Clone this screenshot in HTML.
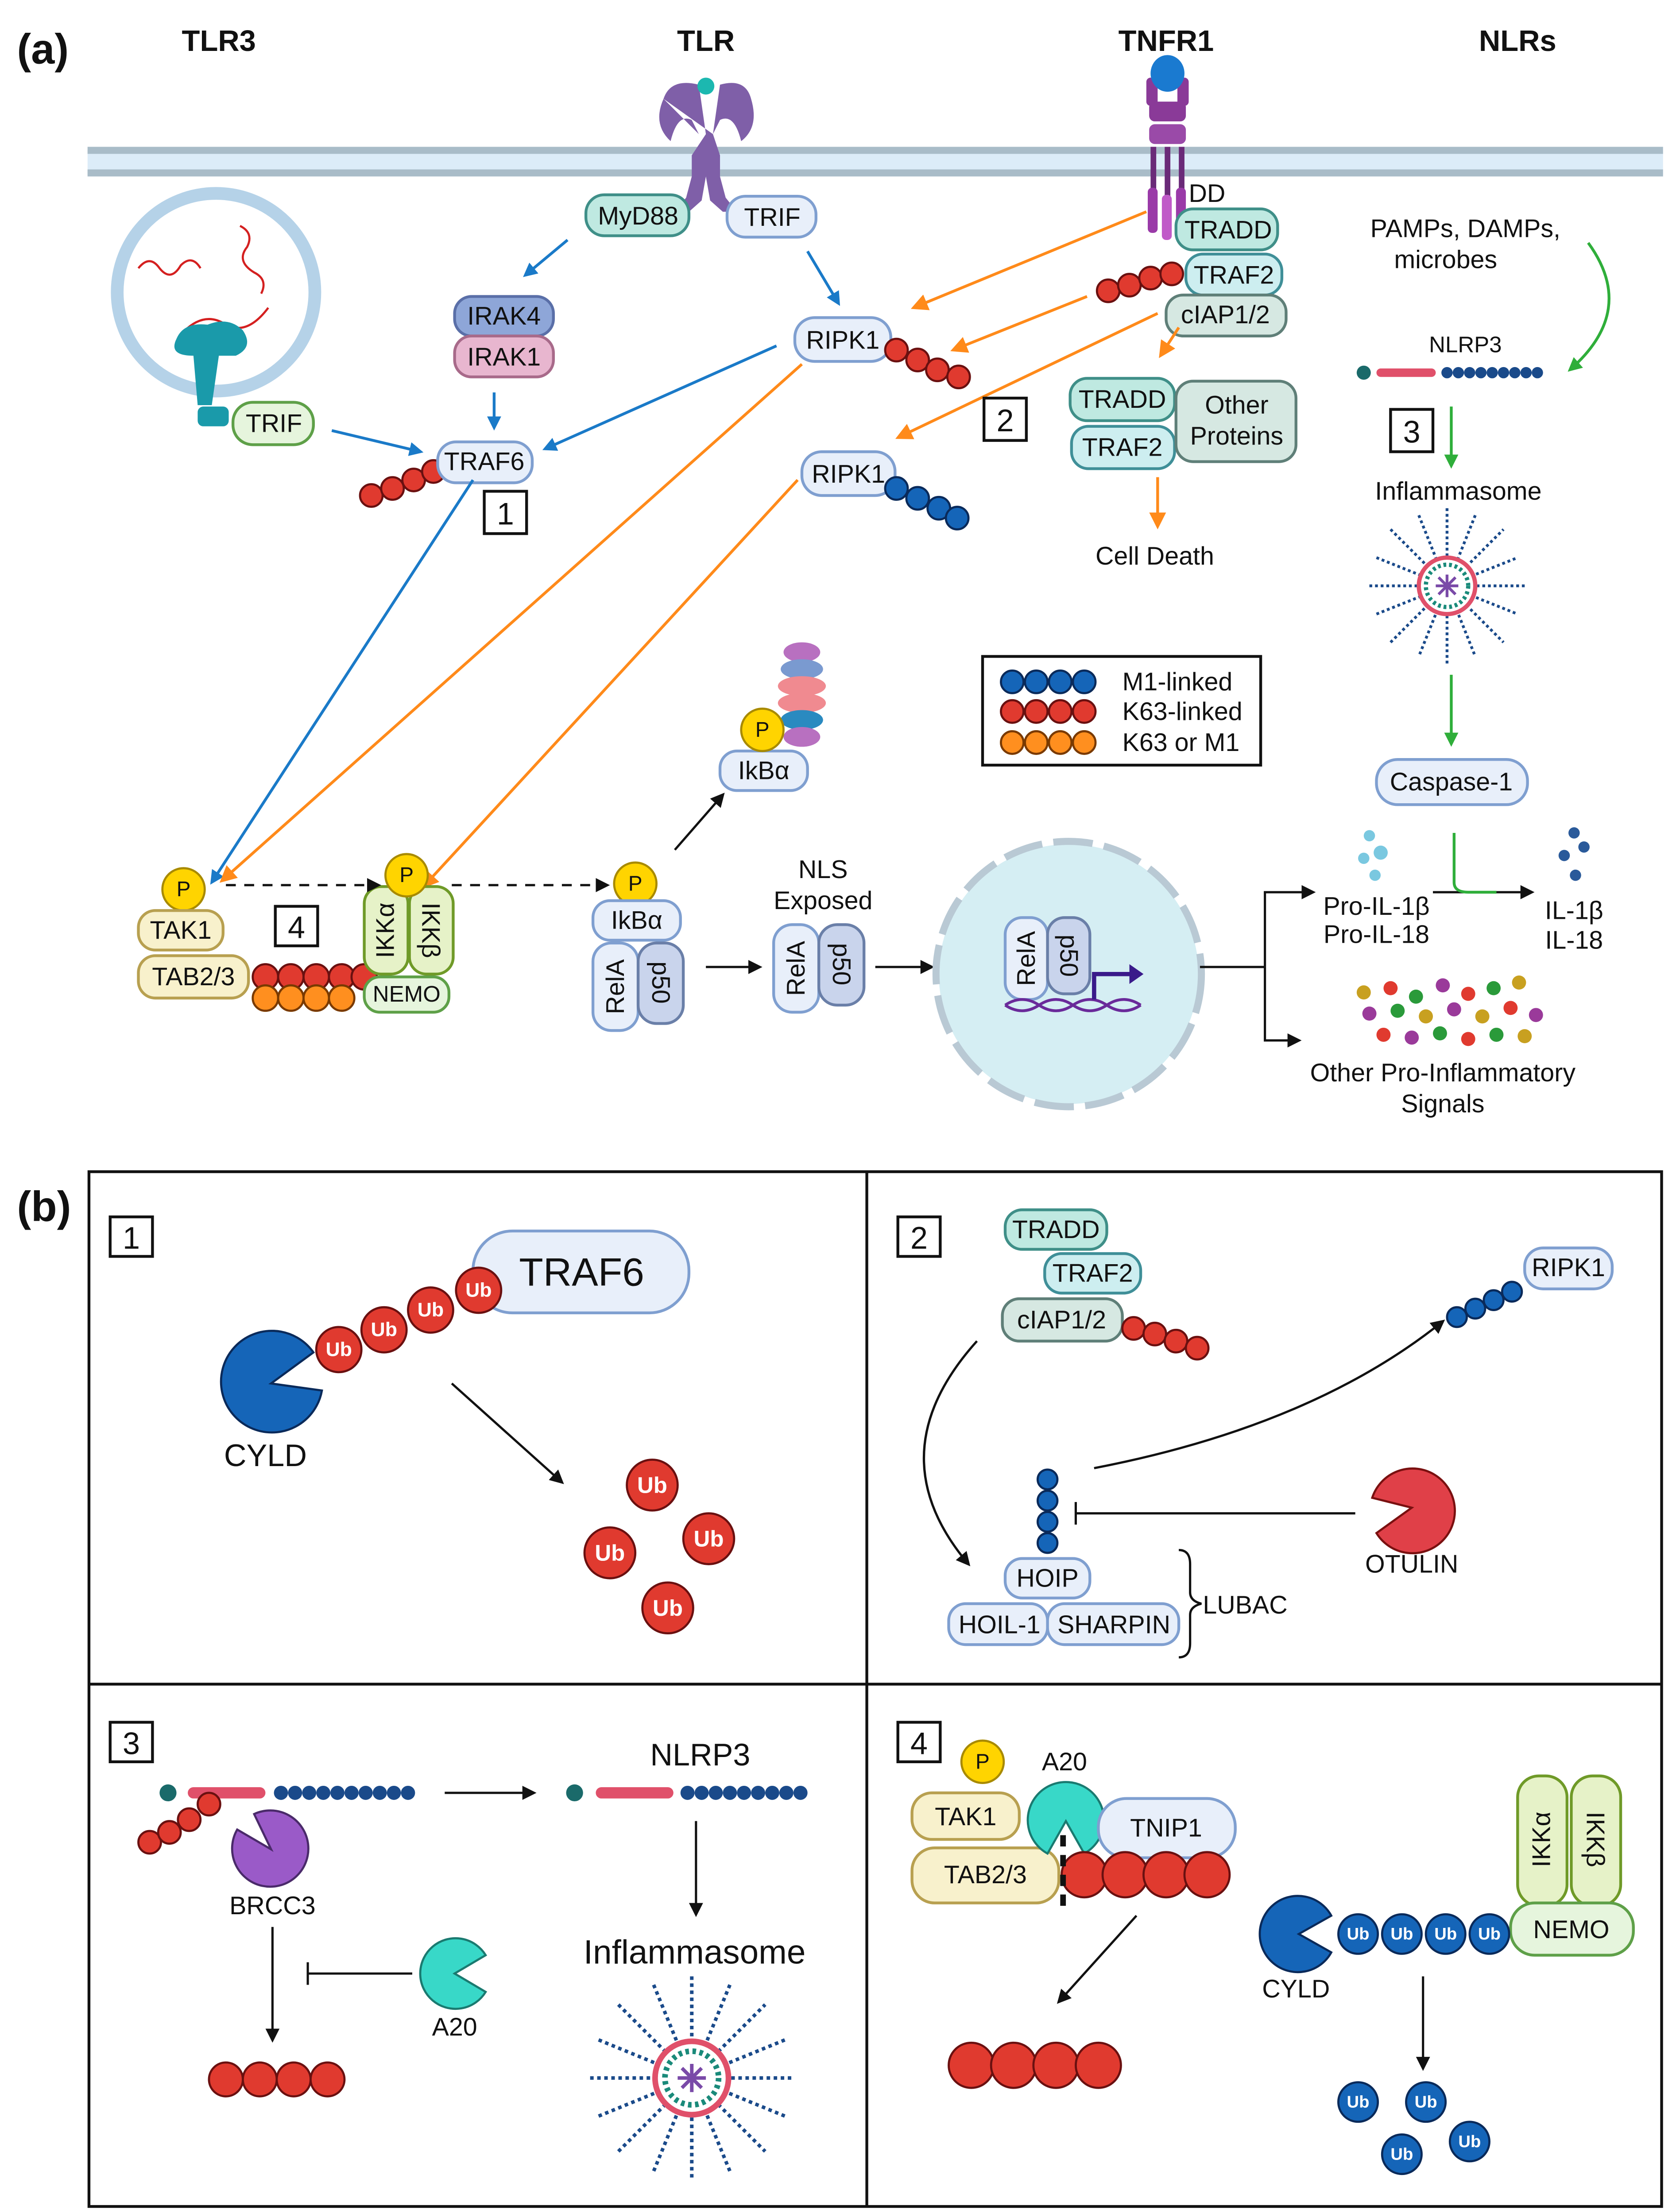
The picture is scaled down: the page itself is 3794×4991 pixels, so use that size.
<!DOCTYPE html>
<html><head><meta charset="utf-8"><style>
html,body{margin:0;padding:0;background:#fff;}
svg{display:block;}
text{font-family:"Liberation Sans",sans-serif;fill:#111;}
.t{font-size:18px;text-anchor:middle;dominant-baseline:central;}
.h{font-size:21px;font-weight:bold;text-anchor:middle;}
.pb{fill:#e8effa;stroke:#7f9fd0;stroke-width:2;}
.pt{fill:#bfe9e1;stroke:#3f8f88;stroke-width:2;}
.pg{fill:#e6f5dd;stroke:#5ea048;stroke-width:2;}
.pc{fill:#d6e8e2;stroke:#5f7f78;stroke-width:2;}
.py{fill:#f8f1cc;stroke:#b8a050;stroke-width:2;}
.pk{fill:#e6f2c8;stroke:#6f9a28;stroke-width:2;}
.r{fill:#e03a2f;stroke:#6a1010;stroke-width:1.5;}
.b{fill:#1565b8;stroke:#0a2a5a;stroke-width:1.5;}
.o{fill:#ff8f1f;stroke:#7a3a00;stroke-width:1.5;}
.bx{fill:#fff;stroke:#111;stroke-width:2;}
.ab{stroke:#1a7ac8;stroke-width:2;fill:none;}
.ao{stroke:#ff8a1a;stroke-width:2;fill:none;}
.ag{stroke:#2fae3a;stroke-width:2;fill:none;}
.ak{stroke:#111;stroke-width:1.6;fill:none;}
.ub{font-size:14px;font-weight:bold;fill:#fff;text-anchor:middle;dominant-baseline:central;}
</style></head><body>
<svg width="3794" height="4991" viewBox="0 0 1190 1565.5" xmlns="http://www.w3.org/2000/svg">
<defs>
<marker id="mb" markerWidth="10" markerHeight="10" refX="8" refY="5" orient="auto" markerUnits="userSpaceOnUse"><path d="M0,0 L10,5 L0,10 Z" fill="#1a7ac8"/></marker>
<marker id="mo" markerWidth="12" markerHeight="12" refX="10" refY="6" orient="auto" markerUnits="userSpaceOnUse"><path d="M0,0 L12,6 L0,12 Z" fill="#ff8a1a"/></marker>
<marker id="mg" markerWidth="10" markerHeight="10" refX="8" refY="5" orient="auto" markerUnits="userSpaceOnUse"><path d="M0,0 L10,5 L0,10 Z" fill="#2fae3a"/></marker>
<marker id="mk" markerWidth="10" markerHeight="10" refX="8" refY="5" orient="auto" markerUnits="userSpaceOnUse"><path d="M0,0 L10,5 L0,10 Z" fill="#111"/></marker>
</defs>

<text x="12" y="45" style="font-size:30px;font-weight:bold">(a)</text>
<text x="12" y="865" style="font-size:30px;font-weight:bold">(b)</text>
<text class="h" x="155" y="36">TLR3</text>
<text class="h" x="500" y="36">TLR</text>
<text class="h" x="826" y="36">TNFR1</text>
<text class="h" x="1075" y="36">NLRs</text>

<rect x="62" y="106" width="1116" height="18" fill="#dcecf8"/>
<rect x="62" y="104" width="1116" height="5" fill="#a9bcc8"/>
<rect x="62" y="120" width="1116" height="5" fill="#a9bcc8"/>

<g fill="#7f5fa8">
<path d="M470,70 Q475,55 495,60 L500,95 L490,110 L490,125 L486,140 L478,150 L488,150 L497,142 L500,125 L503,142 L512,150 L522,150 L514,140 L510,125 L510,110 L505,95 L510,60 Q528,55 532,70 Q538,90 525,100 Q520,80 510,85 L505,95 Z"/>
<path d="M470,70 Q462,88 475,100 Q480,80 490,85 L495,95 Z"/>
</g>
<circle cx="500" cy="61" r="6" fill="#1cb8b0"/>
<g>
<rect x="812" y="55" width="8" height="20" rx="3" fill="#8a3a98"/>
<rect x="834" y="55" width="8" height="20" rx="3" fill="#8a3a98"/>
<ellipse cx="827" cy="52" rx="12" ry="13" fill="#1a7ad0"/>
<rect x="814" y="72" width="26" height="14" rx="4" fill="#8a3a98"/>
<rect x="814" y="88" width="26" height="14" rx="4" fill="#9a4aa8"/>
<rect x="815" y="104" width="4" height="55" fill="#6a2a78"/>
<rect x="825" y="104" width="4" height="55" fill="#6a2a78"/>
<rect x="835" y="104" width="4" height="55" fill="#6a2a78"/>
<rect x="813" y="133" width="7" height="32" rx="3" fill="#9a3aa8"/>
<rect x="823" y="138" width="7" height="32" rx="3" fill="#c05ac8"/>
<rect x="833" y="133" width="7" height="32" rx="3" fill="#9a3aa8"/>
</g>
<text x="842" y="137" style="font-size:18px;dominant-baseline:central">DD</text>

<circle cx="153" cy="207" r="70" fill="#fff" stroke="#b5d2e8" stroke-width="9"/>
<path d="M98,190 q8,-10 15,0 q8,10 15,-2 q8,-8 14,2" stroke="#d42020" stroke-width="1.5" fill="none"/>
<path d="M170,160 q10,5 5,15 q-8,10 5,18 q10,5 5,15" stroke="#d42020" stroke-width="1.5" fill="none"/>
<path d="M130,235 q15,-15 30,-5 q15,8 30,-12" stroke="#d42020" stroke-width="1.5" fill="none"/>
<g fill="#1a9aaa"><path d="M125,240 q5,-12 22,-10 q15,-6 25,4 q8,12 -5,18 l-12,0 l-5,35 l-10,0 l-3,-35 q-18,0 -12,-12 Z"/><rect x="140" y="288" width="22" height="14" rx="4"/></g>
<rect x="165" y="285" width="57" height="30" rx="14" class="pg"/><text class="t" x="194" y="300">TRIF</text>
<line x1="235" y1="305" x2="298" y2="320" class="ab" marker-end="url(#mb)"/>

<circle class="r" cx="263" cy="351" r="8"/><circle class="r" cx="278" cy="346" r="8"/><circle class="r" cx="293" cy="340" r="8"/><circle class="r" cx="307" cy="334" r="8"/>
<rect x="310" y="313" width="67" height="29" rx="13" class="pb"/><text class="t" x="343" y="327">TRAF6</text>
<rect class="bx" x="343" y="348" width="30" height="30"/><text class="t" x="358" y="364" style="font-size:22px">1</text>

<rect x="415" y="138" width="73" height="29" rx="13" class="pt"/><text class="t" x="452" y="153">MyD88</text>
<rect x="515" y="139" width="63" height="29" rx="13" class="pb"/><text class="t" x="547" y="154">TRIF</text>
<rect x="322" y="210" width="70" height="28" rx="12" fill="#8ea6d8" stroke="#5a6fa8" stroke-width="2"/><text class="t" x="357" y="224">IRAK4</text>
<rect x="322" y="238" width="70" height="29" rx="12" fill="#e8b6cf" stroke="#a86a8a" stroke-width="2"/><text class="t" x="357" y="253">IRAK1</text>
<line x1="402" y1="170" x2="372" y2="195" class="ab" marker-end="url(#mb)"/>
<line x1="350" y1="278" x2="350" y2="303" class="ab" marker-end="url(#mb)"/>
<line x1="572" y1="178" x2="594" y2="215" class="ab" marker-end="url(#mb)"/>
<line x1="550" y1="245" x2="386" y2="318" class="ab" marker-end="url(#mb)"/>
<line x1="335" y1="340" x2="150" y2="625" class="ab" marker-end="url(#mb)"/>

<rect x="563" y="225" width="68" height="31" rx="14" class="pb"/><text class="t" x="597" y="241">RIPK1</text>
<circle class="r" cx="635" cy="248" r="8"/><circle class="r" cx="650" cy="255" r="8"/><circle class="r" cx="664" cy="262" r="8"/><circle class="r" cx="679" cy="267" r="8"/>
<rect x="568" y="320" width="66" height="31" rx="14" class="pb"/><text class="t" x="601" y="336">RIPK1</text>
<circle class="b" cx="635" cy="346" r="8"/><circle class="b" cx="650" cy="353" r="8"/><circle class="b" cx="665" cy="360" r="8"/><circle class="b" cx="678" cy="367" r="8"/>

<rect x="833" y="148" width="72" height="29" rx="12" class="pt"/><text class="t" x="870" y="163">TRADD</text>
<rect x="840" y="180" width="68" height="29" rx="12" fill="#cdeef0" stroke="#3f8f98" stroke-width="2"/><text class="t" x="874" y="195">TRAF2</text>
<rect x="826" y="209" width="85" height="29" rx="12" class="pc"/><text class="t" x="868" y="223">cIAP1/2</text>
<circle class="r" cx="785" cy="206" r="8"/><circle class="r" cx="800" cy="202" r="8"/><circle class="r" cx="815" cy="197" r="8"/><circle class="r" cx="830" cy="194" r="8"/>
<line x1="812" y1="150" x2="647" y2="218" class="ao" marker-end="url(#mo)"/>
<line x1="770" y1="210" x2="675" y2="248" class="ao" marker-end="url(#mo)"/>
<line x1="820" y1="222" x2="636" y2="310" class="ao" marker-end="url(#mo)"/>
<line x1="835" y1="232" x2="822" y2="252" class="ao" marker-end="url(#mo)"/>
<line x1="568" y1="258" x2="157" y2="624" class="ao" marker-end="url(#mo)"/>
<line x1="565" y1="340" x2="300" y2="628" class="ao" marker-end="url(#mo)"/>
<rect class="bx" x="697" y="282" width="30" height="30"/><text class="t" x="712" y="298" style="font-size:22px">2</text>
<rect x="758" y="268" width="74" height="30" rx="12" class="pt"/><text class="t" x="795" y="283">TRADD</text>
<rect x="759" y="302" width="73" height="30" rx="12" fill="#cdeef0" stroke="#3f8f98" stroke-width="2"/><text class="t" x="795" y="317">TRAF2</text>
<rect x="833" y="270" width="85" height="57" rx="12" class="pc"/><text class="t" x="876" y="287">Other</text><text class="t" x="876" y="309">Proteins</text>
<line x1="820" y1="338" x2="820" y2="373" class="ao" marker-end="url(#mo)"/>
<text class="t" x="818" y="394">Cell Death</text>

<text class="t" x="1038" y="162">PAMPs, DAMPs,</text>
<text class="t" x="1024" y="184">microbes</text>
<path d="M1125,172 Q1160,220 1112,262" class="ag" marker-end="url(#mg)"/>
<text class="t" x="1038" y="244" style="font-size:16px">NLRP3</text>
<circle cx="966" cy="264" r="5" fill="#1a6a6a"/>
<rect x="975" y="261" width="42" height="6" rx="3" fill="#e0506a"/>
<g fill="#1a4a8a"><circle cx="1025" cy="264" r="4"/><circle cx="1033" cy="264" r="4"/><circle cx="1041" cy="264" r="4"/><circle cx="1049" cy="264" r="4"/><circle cx="1057" cy="264" r="4"/><circle cx="1065" cy="264" r="4"/><circle cx="1073" cy="264" r="4"/><circle cx="1081" cy="264" r="4"/><circle cx="1089" cy="264" r="4"/></g>
<rect class="bx" x="985" y="290" width="30" height="30"/><text class="t" x="1000" y="306" style="font-size:22px">3</text>
<line x1="1028" y1="288" x2="1028" y2="330" class="ag" marker-end="url(#mg)"/>
<text class="t" x="1033" y="348">Inflammasome</text>
<g transform="translate(1025,415)">
<g stroke="#1a4a8a" stroke-width="2" stroke-dasharray="2 2">
<line x1="-55" y1="0" x2="55" y2="0"/><line x1="0" y1="-55" x2="0" y2="55"/><line x1="-40" y1="-40" x2="40" y2="40"/><line x1="-40" y1="40" x2="40" y2="-40"/>
<line x1="-50" y1="-20" x2="50" y2="20"/><line x1="-50" y1="20" x2="50" y2="-20"/><line x1="-20" y1="-50" x2="20" y2="50"/><line x1="20" y1="-50" x2="-20" y2="50"/>
</g>
<circle r="20" fill="#fff" stroke="#e0506a" stroke-width="3"/>
<circle r="15" fill="#fff" stroke="#1a8a7a" stroke-width="3" stroke-dasharray="2 2"/>
<g stroke="#7a4aa8" stroke-width="2"><line x1="-8" y1="0" x2="8" y2="0"/><line x1="0" y1="-8" x2="0" y2="8"/><line x1="-6" y1="-6" x2="6" y2="6"/><line x1="-6" y1="6" x2="6" y2="-6"/></g>
</g>
<line x1="1028" y1="478" x2="1028" y2="527" class="ag" marker-end="url(#mg)"/>
<rect x="975" y="538" width="107" height="32" rx="15" class="pb"/><text class="t" x="1028" y="554">Caspase-1</text>

<rect class="bx" x="696" y="465" width="197" height="77"/>
<g><circle class="b" cx="717" cy="483" r="8"/><circle class="b" cx="734" cy="483" r="8"/><circle class="b" cx="751" cy="483" r="8"/><circle class="b" cx="768" cy="483" r="8"/>
<circle class="r" cx="717" cy="504" r="8"/><circle class="r" cx="734" cy="504" r="8"/><circle class="r" cx="751" cy="504" r="8"/><circle class="r" cx="768" cy="504" r="8"/>
<circle class="o" cx="717" cy="526" r="8"/><circle class="o" cx="734" cy="526" r="8"/><circle class="o" cx="751" cy="526" r="8"/><circle class="o" cx="768" cy="526" r="8"/></g>
<text x="795" y="483" style="font-size:18px;dominant-baseline:central">M1-linked</text>
<text x="795" y="504" style="font-size:18px;dominant-baseline:central">K63-linked</text>
<text x="795" y="526" style="font-size:18px;dominant-baseline:central">K63 or M1</text>

<circle cx="130" cy="630" r="15" fill="#ffd400" stroke="#a88a00" stroke-width="1.5"/><text class="t" x="130" y="630" style="font-size:15px">P</text>
<rect x="98" y="645" width="60" height="28" rx="12" class="py"/><text class="t" x="128" y="659">TAK1</text>
<rect x="98" y="677" width="78" height="30" rx="12" class="py"/><text class="t" x="137" y="692">TAB2/3</text>
<rect class="bx" x="195" y="642" width="30" height="28"/><text class="t" x="210" y="657" style="font-size:22px">4</text>
<g><circle class="r" cx="188" cy="692" r="9"/><circle class="r" cx="206" cy="692" r="9"/><circle class="r" cx="224" cy="692" r="9"/><circle class="r" cx="242" cy="692" r="9"/><circle class="r" cx="258" cy="692" r="9"/>
<circle class="o" cx="188" cy="707" r="9"/><circle class="o" cx="206" cy="707" r="9"/><circle class="o" cx="224" cy="707" r="9"/><circle class="o" cx="242" cy="707" r="9"/></g>
<rect x="258" y="628" width="31" height="62" rx="12" class="pk"/><text class="t" x="273" y="659" transform="rotate(-90 273 659)">IKKα</text>
<rect x="290" y="628" width="31" height="62" rx="12" class="pk"/><text class="t" x="305" y="659" transform="rotate(90 305 659)">IKKβ</text>
<rect x="258" y="692" width="60" height="25" rx="11" class="pg"/><text class="t" x="288" y="704" style="font-size:16px">NEMO</text>
<circle cx="288" cy="620" r="15" fill="#ffd400" stroke="#a88a00" stroke-width="1.5"/><text class="t" x="288" y="620" style="font-size:15px">P</text>
<line x1="160" y1="627" x2="268" y2="627" class="ak" stroke-dasharray="7 6" marker-end="url(#mk)"/>
<line x1="320" y1="627" x2="430" y2="627" class="ak" stroke-dasharray="7 6" marker-end="url(#mk)"/>

<circle cx="450" cy="626" r="15" fill="#ffd400" stroke="#a88a00" stroke-width="1.5"/><text class="t" x="450" y="626" style="font-size:15px">P</text>
<rect x="420" y="638" width="62" height="28" rx="12" class="pb"/><text class="t" x="451" y="652">IkBα</text>
<rect x="420" y="668" width="32" height="62" rx="13" class="pb"/><text class="t" x="436" y="699" transform="rotate(-90 436 699)">RelA</text>
<rect x="452" y="668" width="32" height="57" rx="13" fill="#c9d4ec" stroke="#6a7fa8" stroke-width="2"/><text class="t" x="468" y="696" transform="rotate(90 468 696)">p50</text>
<line x1="478" y1="602" x2="512" y2="563" class="ak" marker-end="url(#mk)"/>
<g>
<ellipse cx="568" cy="462" rx="13" ry="7" fill="#b870c0"/><ellipse cx="568" cy="474" rx="15" ry="7" fill="#7a9ad0"/><ellipse cx="568" cy="486" rx="17" ry="7" fill="#f08a90"/><ellipse cx="568" cy="498" rx="17" ry="7" fill="#f08a90"/><ellipse cx="568" cy="510" rx="15" ry="7" fill="#2a8ac0"/><ellipse cx="568" cy="522" rx="13" ry="7" fill="#b870c0"/>
</g>
<rect x="510" y="532" width="62" height="28" rx="12" class="pb"/><text class="t" x="541" y="546">IkBα</text>
<circle cx="540" cy="517" r="15" fill="#ffd400" stroke="#a88a00" stroke-width="1.5"/><text class="t" x="540" y="517" style="font-size:15px">P</text>
<line x1="500" y1="685" x2="538" y2="685" class="ak" marker-end="url(#mk)"/>
<text class="t" x="583" y="616">NLS</text><text class="t" x="583" y="638">Exposed</text>
<rect x="548" y="655" width="32" height="62" rx="13" class="pb"/><text class="t" x="564" y="686" transform="rotate(-90 564 686)">RelA</text>
<rect x="580" y="655" width="32" height="57" rx="13" fill="#c9d4ec" stroke="#6a7fa8" stroke-width="2"/><text class="t" x="596" y="683" transform="rotate(90 596 683)">p50</text>
<line x1="620" y1="685" x2="660" y2="685" class="ak" marker-end="url(#mk)"/>

<circle cx="757" cy="690" r="92" fill="#d5eef3"/>
<circle cx="757" cy="690" r="94" fill="none" stroke="#b9c9d4" stroke-width="5" stroke-dasharray="28 8"/>
<rect x="712" y="650" width="30" height="58" rx="12" class="pb"/><text class="t" x="727" y="679" transform="rotate(-90 727 679)">RelA</text>
<rect x="742" y="650" width="30" height="54" rx="12" fill="#c9d4ec" stroke="#6a7fa8" stroke-width="2"/><text class="t" x="757" y="677" transform="rotate(90 757 677)">p50</text>
<path d="M712,712 q12,-8 24,0 q12,8 24,0 q12,-8 24,0 q12,8 24,0" stroke="#6a2a9a" stroke-width="2" fill="none"/>
<path d="M712,712 q12,8 24,0 q12,-8 24,0 q12,8 24,0 q12,-8 24,0" stroke="#6a2a9a" stroke-width="2" fill="none"/>
<path d="M775,708 L775,690 L803,690" stroke="#3a1a8a" stroke-width="3" fill="none"/><path d="M800,683 L810,690 L800,697 Z" fill="#3a1a8a"/>
<line x1="850" y1="685" x2="896" y2="685" class="ak"/>
<path d="M896,685 L896,632 L930,632" class="ak" marker-end="url(#mk)"/>
<path d="M896,685 L896,737 L920,737" class="ak" marker-end="url(#mk)"/>
<text class="t" x="975" y="642">Pro-IL-1β</text><text class="t" x="975" y="662">Pro-IL-18</text>
<line x1="1015" y1="632" x2="1085" y2="632" class="ak" marker-end="url(#mk)"/>
<path d="M1030,590 L1030,625 Q1030,632 1040,632 L1060,632" stroke="#2fae3a" stroke-width="2" fill="none"/>
<text class="t" x="1115" y="645">IL-1β</text><text class="t" x="1115" y="666">IL-18</text>
<g fill="#7ac8e0"><circle cx="970" cy="592" r="4"/><circle cx="978" cy="604" r="5"/><circle cx="966" cy="608" r="4"/><circle cx="974" cy="620" r="4"/></g>
<g fill="#2a5a9a"><circle cx="1115" cy="590" r="4"/><circle cx="1122" cy="600" r="4"/><circle cx="1108" cy="606" r="4"/><circle cx="1116" cy="620" r="4"/></g>
<g>
<circle cx="966" cy="703" r="5" fill="#c8a020"/><circle cx="985" cy="700" r="5" fill="#e03a2f"/><circle cx="1003" cy="706" r="5" fill="#2a9a3a"/><circle cx="1022" cy="698" r="5" fill="#9a3a9a"/><circle cx="1040" cy="704" r="5" fill="#e03a2f"/><circle cx="1058" cy="700" r="5" fill="#2a9a3a"/><circle cx="1076" cy="696" r="5" fill="#c8a020"/>
<circle cx="970" cy="718" r="5" fill="#9a3a9a"/><circle cx="990" cy="716" r="5" fill="#2a9a3a"/><circle cx="1010" cy="720" r="5" fill="#c8a020"/><circle cx="1030" cy="715" r="5" fill="#9a3a9a"/><circle cx="1050" cy="720" r="5" fill="#c8a020"/><circle cx="1070" cy="714" r="5" fill="#e03a2f"/><circle cx="1088" cy="719" r="5" fill="#9a3a9a"/>
<circle cx="980" cy="733" r="5" fill="#e03a2f"/><circle cx="1000" cy="735" r="5" fill="#9a3a9a"/><circle cx="1020" cy="732" r="5" fill="#2a9a3a"/><circle cx="1040" cy="736" r="5" fill="#e03a2f"/><circle cx="1060" cy="733" r="5" fill="#2a9a3a"/><circle cx="1080" cy="734" r="5" fill="#c8a020"/>
</g>
<text class="t" x="1022" y="760">Other Pro-Inflammatory</text><text class="t" x="1022" y="782">Signals</text>

<rect x="63" y="830" width="1114" height="733" fill="none" stroke="#111" stroke-width="2"/>
<line x1="614" y1="830" x2="614" y2="1563" stroke="#111" stroke-width="2"/>
<line x1="63" y1="1193" x2="1177" y2="1193" stroke="#111" stroke-width="2"/>

<rect class="bx" x="78" y="862" width="30" height="28"/><text class="t" x="93" y="877" style="font-size:22px">1</text>
<rect x="335" y="872" width="153" height="58" rx="28" class="pb"/><text class="t" x="412" y="901" style="font-size:28px">TRAF6</text>
<g><circle class="r" cx="240" cy="956" r="16"/><text class="ub" x="240" y="956">Ub</text>
<circle class="r" cx="272" cy="942" r="16"/><text class="ub" x="272" y="942">Ub</text>
<circle class="r" cx="305" cy="928" r="16"/><text class="ub" x="305" y="928">Ub</text>
<circle class="r" cx="339" cy="914" r="16"/><text class="ub" x="339" y="914">Ub</text></g>
<path d="M192,980 L222,958 A36,36 0 1 0 228,985 Z" fill="#1565b8" stroke="#0a2a5a" stroke-width="1.5"/>
<text class="t" x="188" y="1031" style="font-size:22px">CYLD</text>
<line x1="320" y1="980" x2="398" y2="1050" class="ak" marker-end="url(#mk)"/>
<g><circle class="r" cx="462" cy="1052" r="18"/><text class="ub" x="462" y="1052" style="font-size:16px">Ub</text>
<circle class="r" cx="502" cy="1090" r="18"/><text class="ub" x="502" y="1090" style="font-size:16px">Ub</text>
<circle class="r" cx="432" cy="1100" r="18"/><text class="ub" x="432" y="1100" style="font-size:16px">Ub</text>
<circle class="r" cx="473" cy="1139" r="18"/><text class="ub" x="473" y="1139" style="font-size:16px">Ub</text></g>

<rect class="bx" x="636" y="862" width="30" height="28"/><text class="t" x="651" y="877" style="font-size:22px">2</text>
<rect x="712" y="857" width="72" height="28" rx="12" class="pt"/><text class="t" x="748" y="871">TRADD</text>
<rect x="740" y="888" width="68" height="28" rx="12" fill="#cdeef0" stroke="#3f8f98" stroke-width="2"/><text class="t" x="774" y="902">TRAF2</text>
<rect x="710" y="920" width="85" height="30" rx="12" class="pc"/><text class="t" x="752" y="935">cIAP1/2</text>
<circle class="r" cx="803" cy="941" r="8"/><circle class="r" cx="818" cy="945" r="8"/><circle class="r" cx="833" cy="950" r="8"/><circle class="r" cx="848" cy="955" r="8"/>
<rect x="1080" y="884" width="62" height="29" rx="13" class="pb"/><text class="t" x="1111" y="898">RIPK1</text>
<circle class="b" cx="1032" cy="933" r="7"/><circle class="b" cx="1045" cy="927" r="7"/><circle class="b" cx="1058" cy="921" r="7"/><circle class="b" cx="1071" cy="915" r="7"/>
<path d="M692,950 Q620,1030 686,1108" class="ak" marker-end="url(#mk)"/>
<path d="M775,1040 Q930,1010 1022,936" class="ak" marker-end="url(#mk)"/>
<circle class="b" cx="742" cy="1048" r="7"/><circle class="b" cx="742" cy="1063" r="7"/><circle class="b" cx="742" cy="1078" r="7"/><circle class="b" cx="742" cy="1093" r="7"/>
<line x1="762" y1="1072" x2="960" y2="1072" class="ak"/><line x1="762" y1="1064" x2="762" y2="1080" class="ak"/>
<path d="M1000,1068 L1025,1050 A30,30 0 1 0 1028,1075 Z" fill="#e04048" stroke="#7a1010" stroke-width="1.5" transform="rotate(180 1000 1068)"/>
<text class="t" x="1000" y="1108">OTULIN</text>
<rect x="712" y="1104" width="60" height="28" rx="12" class="pb"/><text class="t" x="742" y="1118">HOIP</text>
<rect x="672" y="1136" width="70" height="29" rx="12" class="pb"/><text class="t" x="708" y="1151">HOIL-1</text>
<rect x="742" y="1136" width="93" height="29" rx="12" class="pb"/><text class="t" x="789" y="1151">SHARPIN</text>
<path d="M835,1098 q8,0 8,10 l0,20 q0,6 8,8 q-8,2 -8,8 l0,20 q0,10 -8,10" class="ak"/>
<text class="t" x="882" y="1137">LUBAC</text>

<rect class="bx" x="78" y="1220" width="30" height="28"/><text class="t" x="93" y="1235" style="font-size:22px">3</text>
<circle cx="119" cy="1270" r="6" fill="#1a6a6a"/>
<rect x="133" y="1266" width="55" height="8" rx="4" fill="#e0506a"/>
<g fill="#1a4a8a"><circle cx="199" cy="1270" r="5"/><circle cx="209" cy="1270" r="5"/><circle cx="219" cy="1270" r="5"/><circle cx="229" cy="1270" r="5"/><circle cx="239" cy="1270" r="5"/><circle cx="249" cy="1270" r="5"/><circle cx="259" cy="1270" r="5"/><circle cx="269" cy="1270" r="5"/><circle cx="279" cy="1270" r="5"/><circle cx="289" cy="1270" r="5"/></g>
<circle class="r" cx="106" cy="1305" r="8"/><circle class="r" cx="120" cy="1298" r="8"/><circle class="r" cx="134" cy="1289" r="8"/><circle class="r" cx="148" cy="1278" r="8"/>
<path d="M192,1310 L168,1296 A27,27 0 1 0 180,1285 Z" fill="#9a5ac8" stroke="#4a2a6a" stroke-width="1.5"/>
<text class="t" x="193" y="1350">BRCC3</text>
<line x1="193" y1="1365" x2="193" y2="1445" class="ak" marker-end="url(#mk)"/>
<line x1="218" y1="1398" x2="292" y2="1398" class="ak"/><line x1="218" y1="1390" x2="218" y2="1406" class="ak"/>
<path d="M322,1398 L344,1385 A25,25 0 1 0 344,1411 Z" fill="#38d8c8" stroke="#1a7a70" stroke-width="1.5"/>
<text class="t" x="322" y="1436">A20</text>
<circle class="r" cx="160" cy="1473" r="12"/><circle class="r" cx="184" cy="1473" r="12"/><circle class="r" cx="208" cy="1473" r="12"/><circle class="r" cx="232" cy="1473" r="12"/>
<line x1="315" y1="1270" x2="378" y2="1270" class="ak" marker-end="url(#mk)"/>
<text class="t" x="496" y="1243" style="font-size:22px">NLRP3</text>
<circle cx="407" cy="1270" r="6" fill="#1a6a6a"/>
<rect x="422" y="1266" width="55" height="8" rx="4" fill="#e0506a"/>
<g fill="#1a4a8a"><circle cx="487" cy="1270" r="5"/><circle cx="497" cy="1270" r="5"/><circle cx="507" cy="1270" r="5"/><circle cx="517" cy="1270" r="5"/><circle cx="527" cy="1270" r="5"/><circle cx="537" cy="1270" r="5"/><circle cx="547" cy="1270" r="5"/><circle cx="557" cy="1270" r="5"/><circle cx="567" cy="1270" r="5"/></g>
<line x1="493" y1="1290" x2="493" y2="1356" class="ak" marker-end="url(#mk)"/>
<text class="t" x="492" y="1383" style="font-size:24px">Inflammasome</text>
<g transform="translate(490,1472)">
<g stroke="#1a4a8a" stroke-width="2.5" stroke-dasharray="2.5 2.5">
<line x1="-72" y1="0" x2="72" y2="0"/><line x1="0" y1="-72" x2="0" y2="72"/><line x1="-52" y1="-52" x2="52" y2="52"/><line x1="-52" y1="52" x2="52" y2="-52"/>
<line x1="-66" y1="-27" x2="66" y2="27"/><line x1="-66" y1="27" x2="66" y2="-27"/><line x1="-27" y1="-66" x2="27" y2="66"/><line x1="27" y1="-66" x2="-27" y2="66"/>
</g>
<circle r="26" fill="#fff" stroke="#e0506a" stroke-width="4"/>
<circle r="19" fill="#fff" stroke="#1a8a7a" stroke-width="4" stroke-dasharray="2.5 2.5"/>
<g stroke="#7a4aa8" stroke-width="2.5"><line x1="-10" y1="0" x2="10" y2="0"/><line x1="0" y1="-10" x2="0" y2="10"/><line x1="-7" y1="-7" x2="7" y2="7"/><line x1="-7" y1="7" x2="7" y2="-7"/></g>
</g>

<rect class="bx" x="636" y="1220" width="30" height="28"/><text class="t" x="651" y="1235" style="font-size:22px">4</text>
<circle cx="696" cy="1248" r="15" fill="#ffd400" stroke="#a88a00" stroke-width="1.5"/><text class="t" x="696" y="1248" style="font-size:15px">P</text>
<text class="t" x="754" y="1248">A20</text>
<rect x="646" y="1270" width="76" height="33" rx="14" class="py"/><text class="t" x="684" y="1287">TAK1</text>
<rect x="646" y="1309" width="104" height="39" rx="16" class="py"/><text class="t" x="698" y="1328">TAB2/3</text>
<path d="M755,1290 L778,1277 A27,27 0 1 0 778,1303 Z" transform="rotate(90 755 1290)" fill="#38d8c8" stroke="#1a7a70" stroke-width="1.5"/>
<rect x="778" y="1274" width="97" height="42" rx="20" class="pb"/><text class="t" x="826" y="1295">TNIP1</text>
<circle class="r" cx="768" cy="1328" r="16"/><circle class="r" cx="797" cy="1328" r="16"/><circle class="r" cx="826" cy="1328" r="16"/><circle class="r" cx="855" cy="1328" r="16"/>
<line x1="753" y1="1300" x2="753" y2="1356" stroke="#111" stroke-width="4" stroke-dasharray="8 6"/>
<line x1="805" y1="1357" x2="750" y2="1418" class="ak" marker-end="url(#mk)"/>
<circle class="r" cx="688" cy="1463" r="16"/><circle class="r" cx="718" cy="1463" r="16"/><circle class="r" cx="748" cy="1463" r="16"/><circle class="r" cx="778" cy="1463" r="16"/>
<rect x="1075" y="1258" width="35" height="92" rx="15" class="pk"/><text class="t" x="1092" y="1303" transform="rotate(-90 1092 1303)">IKKα</text>
<rect x="1113" y="1258" width="35" height="92" rx="15" class="pk"/><text class="t" x="1130" y="1303" transform="rotate(90 1130 1303)">IKKβ</text>
<rect x="1070" y="1348" width="87" height="37" rx="17" class="pg"/><text class="t" x="1113" y="1367">NEMO</text>
<g><circle class="b" cx="962" cy="1370" r="14"/><text class="ub" x="962" y="1370" style="font-size:12px">Ub</text>
<circle class="b" cx="993" cy="1370" r="14"/><text class="ub" x="993" y="1370" style="font-size:12px">Ub</text>
<circle class="b" cx="1024" cy="1370" r="14"/><text class="ub" x="1024" y="1370" style="font-size:12px">Ub</text>
<circle class="b" cx="1055" cy="1370" r="14"/><text class="ub" x="1055" y="1370" style="font-size:12px">Ub</text></g>
<path d="M920,1370 L943,1357 A27,27 0 1 0 943,1383 Z" fill="#1565b8" stroke="#0a2a5a" stroke-width="1.5"/>
<text class="t" x="918" y="1409">CYLD</text>
<line x1="1008" y1="1400" x2="1008" y2="1465" class="ak" marker-end="url(#mk)"/>
<g><circle class="b" cx="962" cy="1489" r="14"/><text class="ub" x="962" y="1489" style="font-size:12px">Ub</text>
<circle class="b" cx="1010" cy="1489" r="14"/><text class="ub" x="1010" y="1489" style="font-size:12px">Ub</text>
<circle class="b" cx="993" cy="1526" r="14"/><text class="ub" x="993" y="1526" style="font-size:12px">Ub</text>
<circle class="b" cx="1041" cy="1517" r="14"/><text class="ub" x="1041" y="1517" style="font-size:12px">Ub</text></g>
</svg>
</body></html>
